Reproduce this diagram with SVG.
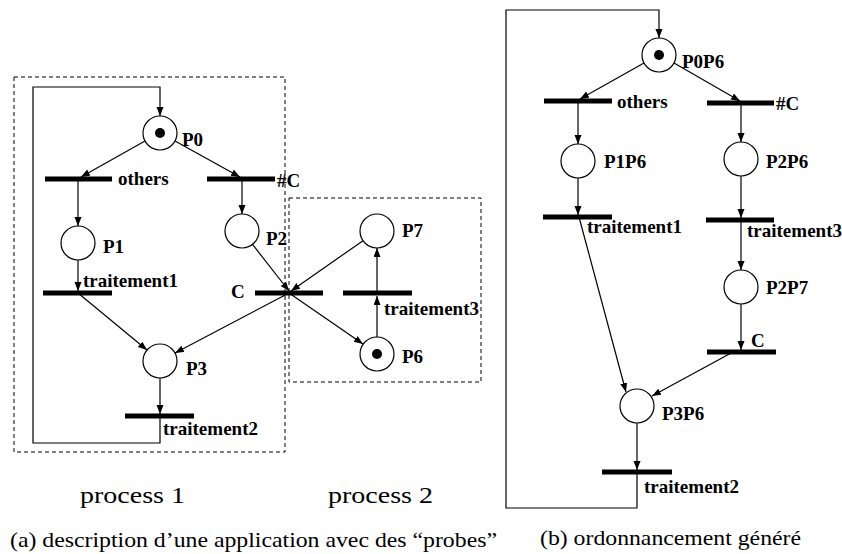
<svg xmlns="http://www.w3.org/2000/svg" width="842" height="554" viewBox="0 0 842 554">
<defs>
<marker id="ah" markerUnits="userSpaceOnUse" markerWidth="10" markerHeight="8" refX="9" refY="3.5" orient="auto">
<path d="M0,0 L9,3.5 L0,7 z" fill="#000"/>
</marker>
<style>
.pl{fill:#fff;stroke:#000;stroke-width:1.2}
.tk{fill:#000}
.tr{stroke:#000;stroke-width:5}
.lb{font-family:"Liberation Serif","Times New Roman",serif;font-weight:bold;font-size:19px;fill:#000}
.cap{font-family:"Liberation Serif","Times New Roman",serif;fill:#000}
.ar{fill:none;stroke:#000;stroke-width:1.2;marker-end:url(#ah)}
.ln{fill:none;stroke:#000;stroke-width:1.2}
.box{fill:none;stroke:#000;stroke-width:1;stroke-dasharray:4,3}
</style>
</defs>
<rect width="842" height="554" fill="#fff"/>
<g id="boxes">
<rect class="box" x="14" y="77" width="271" height="375"/>
<rect class="box" x="289" y="198" width="192" height="184"/>
</g>
<g id="connectors">
<path class="ar" d="M160,416 V443 H33 V87 H160 V116"/>
<path class="ar" d="M145,141 L81,177"/>
<path class="ar" d="M175,141 L240,177"/>
<path class="ar" d="M78,179 V226"/>
<path class="ar" d="M242,179 V214"/>
<path class="ar" d="M78,260 V291"/>
<path class="ar" d="M252.5,244.4 L289,291"/>
<path class="ar" d="M363,240.7 L291,291"/>
<path class="ar" d="M78,293 L147,350"/>
<path class="ar" d="M289,293 L175,353"/>
<path class="ar" d="M289,293 L363,344"/>
<path class="ar" d="M377,337 V296"/>
<path class="ar" d="M377,293 V248"/>
<path class="ar" d="M160,378 V414"/>
<path class="ar" d="M637,472 V508 H506 V10 H659 V38"/>
<path class="ar" d="M644,63 L580,99"/>
<path class="ar" d="M674,63 L740,101"/>
<path class="ar" d="M578,101 V144"/>
<path class="ar" d="M741,103 V142"/>
<path class="ar" d="M578,178 V215"/>
<path class="ar" d="M741,176 V218"/>
<path class="ar" d="M741,220 V270"/>
<path class="ar" d="M741,304 V350"/>
<path class="ar" d="M579,217 L626,392"/>
<path class="ar" d="M733,352 L652,396"/>
<path class="ar" d="M637,423 V470"/>
</g>
<g id="P0"><circle class="pl" cx="160" cy="133" r="17"/><circle class="tk" cx="160" cy="133" r="5"/><text class="lb" x="182" y="146">P0</text></g>
<g id="t_others"><line class="tr" x1="45" y1="179" x2="112" y2="179"/><text class="lb" x="118" y="185">others</text></g>
<g id="t_notC"><line class="tr" x1="207" y1="179" x2="275" y2="179"/><text class="lb" x="277" y="187">#C</text></g>
<g id="P1"><circle class="pl" cx="78" cy="243" r="17"/><text class="lb" x="103" y="253">P1</text></g>
<g id="P2"><circle class="pl" cx="242" cy="231" r="17"/><text class="lb" x="266" y="245">P2</text></g>
<g id="t_traitement1"><line class="tr" x1="43" y1="293" x2="112" y2="293"/><text class="lb" x="83" y="287">traitement1</text></g>
<g id="t_C"><line class="tr" x1="255" y1="293" x2="323" y2="293"/><text class="lb" x="231" y="298">C</text></g>
<g id="P7"><circle class="pl" cx="377" cy="231" r="17"/><text class="lb" x="402" y="237">P7</text></g>
<g id="P6"><circle class="pl" cx="377" cy="354" r="17"/><circle class="tk" cx="377" cy="354" r="5"/><text class="lb" x="402" y="363">P6</text></g>
<g id="t_traitement3"><line class="tr" x1="343" y1="293" x2="412" y2="293"/><text class="lb" x="384" y="315">traitement3</text></g>
<g id="P3"><circle class="pl" cx="160" cy="361" r="17"/><text class="lb" x="186" y="375">P3</text></g>
<g id="t_traitement2"><line class="tr" x1="125" y1="416" x2="194" y2="416"/><text class="lb" x="163" y="435">traitement2</text></g>
<g id="P0P6"><circle class="pl" cx="659" cy="55" r="17"/><circle class="tk" cx="659" cy="55" r="5"/><text class="lb" x="682" y="68">P0P6</text></g>
<g id="b_others"><line class="tr" x1="544" y1="101" x2="612" y2="101"/><text class="lb" x="617" y="108">others</text></g>
<g id="b_notC"><line class="tr" x1="707" y1="103" x2="774" y2="103"/><text class="lb" x="776" y="110">#C</text></g>
<g id="P1P6"><circle class="pl" cx="578" cy="161" r="17"/><text class="lb" x="604" y="168">P1P6</text></g>
<g id="P2P6"><circle class="pl" cx="741" cy="159" r="17"/><text class="lb" x="766" y="168">P2P6</text></g>
<g id="b_traitement1"><line class="tr" x1="543" y1="217" x2="612" y2="217"/><text class="lb" x="587" y="233">traitement1</text></g>
<g id="b_traitement3"><line class="tr" x1="706" y1="220" x2="774" y2="220"/><text class="lb" x="747" y="237">traitement3</text></g>
<g id="P2P7"><circle class="pl" cx="741" cy="287" r="17"/><text class="lb" x="766" y="294">P2P7</text></g>
<g id="b_C"><line class="tr" x1="707" y1="352" x2="776" y2="352"/><text class="lb" x="751" y="347">C</text></g>
<g id="P3P6"><circle class="pl" cx="637" cy="406" r="17"/><text class="lb" x="662" y="420">P3P6</text></g>
<g id="b_traitement2"><line class="tr" x1="602" y1="472" x2="672" y2="472"/><text class="lb" x="644" y="493">traitement2</text></g>
<g id="captions">
<text class="cap" x="80" y="503" font-size="23" textLength="105" lengthAdjust="spacingAndGlyphs">process 1</text>
<text class="cap" x="328" y="503" font-size="23" textLength="105" lengthAdjust="spacingAndGlyphs">process 2</text>
<text class="cap" x="10" y="547" font-size="21" textLength="487" lengthAdjust="spacingAndGlyphs">(a) description d’une application avec des “probes”</text>
<text class="cap" x="540" y="545" font-size="21" textLength="261" lengthAdjust="spacingAndGlyphs">(b) ordonnancement généré</text>
</g>
</svg>
